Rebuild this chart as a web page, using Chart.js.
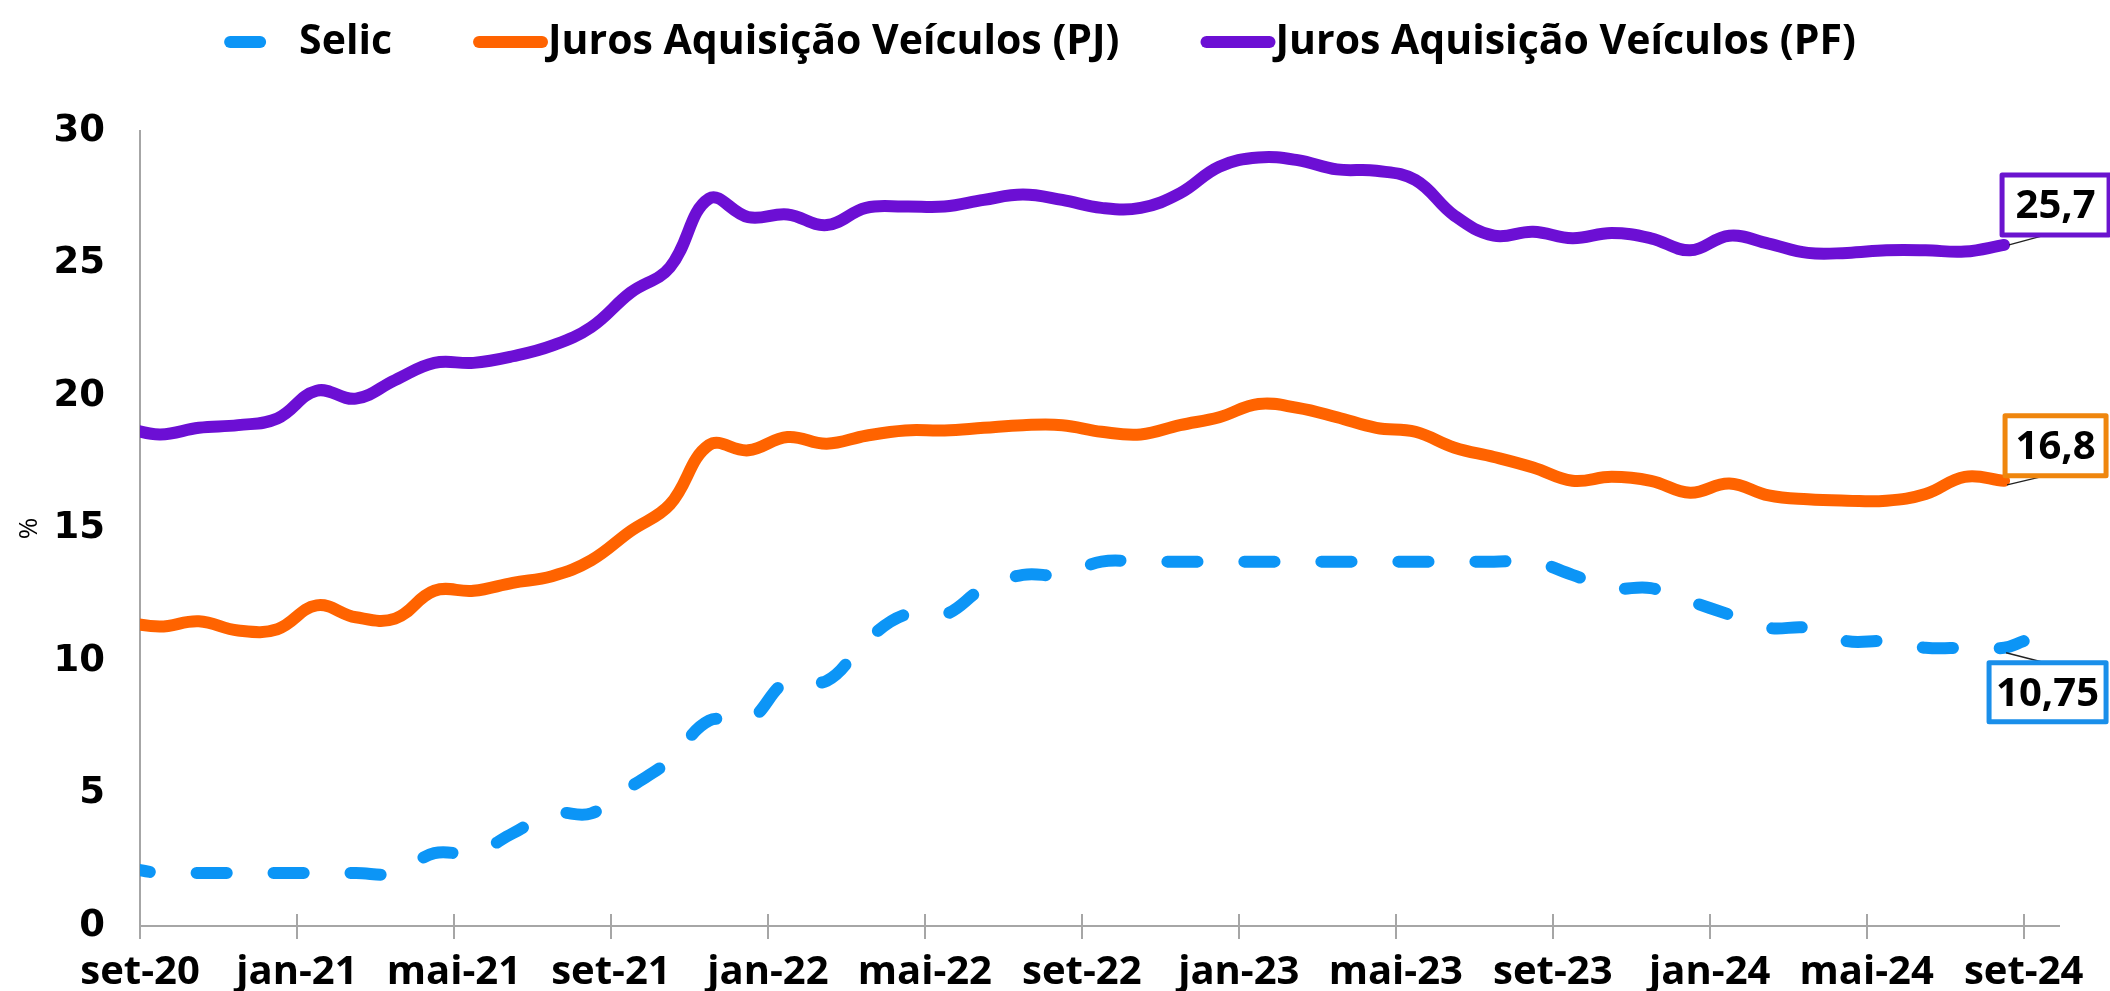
<!DOCTYPE html>
<html><head><meta charset="utf-8">
<script src="https://cdn.jsdelivr.net/npm/chart.js@4.4.1/dist/chart.umd.min.js"></script>
<style>html,body{margin:0;padding:0;background:#fff;overflow:hidden}#wrap{width:2110px;height:991px}</style>
</head><body><div id="wrap"><canvas id="c" width="2110" height="991"></canvas></div>
<script>
// monthly observations (ago-20 .. ago-24); each plotted at mid-month
const months = ['ago-20','set-20','out-20','nov-20','dez-20','jan-21','fev-21','mar-21','abr-21','mai-21','jun-21','jul-21',
  'ago-21','set-21','out-21','nov-21','dez-21','jan-22','fev-22','mar-22','abr-22','mai-22','jun-22','jul-22',
  'ago-22','set-22','out-22','nov-22','dez-22','jan-23','fev-23','mar-23','abr-23','mai-23','jun-23','jul-23',
  'ago-23','set-23','out-23','nov-23','dez-23','jan-24','fev-24','mar-24','abr-24','mai-24','jun-24','jul-24','ago-24'];
const tickLabels = ['set-20','jan-21','mai-21','set-21','jan-22','mai-22','set-22','jan-23','mai-23','set-23','jan-24','mai-24','set-24'];
const selic = [2.25,2,2,2,2,2,2,2,2.75,2.75,3.5,4.25,4.25,5.25,6.25,7.75,7.75,9.25,9.25,10.75,11.75,11.75,12.75,13.25,13.25,
  13.75,13.75,13.75,13.75,13.75,13.75,13.75,13.75,13.75,13.75,13.75,13.75,13.25,12.75,12.75,12.25,11.75,11.25,11.25,10.75,10.75,10.5,10.5,10.5];
const selicAtualMes = 'set-24';
const selicAtual = 10.75;
const pj = [11.5,11.3,11.5,11.15,11.2,12.1,11.65,11.6,12.65,12.65,12.95,13.2,13.8,14.9,15.9,18.15,17.95,18.45,18.2,18.5,18.7,18.7,18.8,18.9,18.9,
  18.65,18.55,18.9,19.2,19.7,19.55,19.2,18.8,18.65,18.05,17.7,17.3,16.8,16.95,16.8,16.35,16.7,16.25,16.1,16.05,16.05,16.3,16.95,16.8];
const pf = [18.85,18.55,18.8,18.9,19.15,20.2,19.9,20.6,21.25,21.25,21.5,21.9,22.6,23.9,24.85,27.45,26.75,26.85,26.45,27.1,27.15,27.15,27.4,27.6,27.4,
  27.1,27.1,27.65,28.65,29.0,28.9,28.55,28.5,28.15,26.8,26.05,26.2,25.95,26.15,25.95,25.5,26.05,25.75,25.4,25.4,25.5,25.5,25.45,25.7];
const seriesNames = ['Selic','Juros Aquisição Veículos (PJ)','Juros Aquisição Veículos (PF)'];

// month position on the linear axis: 0 = start of set-20
const midMonth = k => k - 0.5;
const tickPos = lbl => tickLabels.indexOf(lbl) * 4;
const fmt = v => v.toLocaleString('pt-BR');

const COLORS = {selic:'#0C95F6', pj:'#FF6300', pf:'#6C0FD4'};
const BOXCOL = {selic:'#1A8FEA', pj:'#EF860E', pf:'#6B14CF'};
const clipLeft = {left:0, top:false, right:false, bottom:false};

const selicData = selic.map((v,k)=>({x:midMonth(k), y:v})).concat([{x:tickPos(selicAtualMes), y:selicAtual}]);
const pjData = pj.map((v,k)=>({x:midMonth(k), y:v}));
const pfData = pf.map((v,k)=>({x:midMonth(k), y:v}));

const endLabelPlugin = {
  id:'endLabels',
  afterDatasetsDraw(chart){
    const ctx = chart.ctx;
    const defs = [
      {ds:2, idx:pf.length-1, text:fmt(pf[pf.length-1]), col:BOXCOL.pf, bx:-2, by:-70, w:107, h:60, l1:[5,0], l2:[42,-10]},
      {ds:1, idx:pj.length-1, text:fmt(pj[pj.length-1]), col:BOXCOL.pj, bx:1, by:-65, w:101, h:60, l1:[3,4], l2:[41,-5]},
      {ds:0, idx:selic.length-1, text:fmt(selicAtual), col:BOXCOL.selic, bx:-15, by:15, w:117, h:59, l1:[2,5], l2:[41,15]}
    ];
    ctx.save();
    defs.forEach(d=>{
      const el = chart.getDatasetMeta(d.ds).data[d.idx];
      const ax = el.x, ay = el.y;
      ctx.strokeStyle = '#222'; ctx.lineWidth = 1.3; ctx.setLineDash([]);
      ctx.beginPath(); ctx.moveTo(ax+d.l1[0], ay+d.l1[1]); ctx.lineTo(ax+d.l2[0], ay+d.l2[1]); ctx.stroke();
      const x = ax + d.bx, y = ay + d.by;
      ctx.fillStyle = '#fff'; ctx.fillRect(x, y, d.w, d.h);
      ctx.strokeStyle = d.col; ctx.lineWidth = 5; ctx.lineJoin='round';
      ctx.strokeRect(x, y, d.w, d.h);
      ctx.fillStyle = '#000'; ctx.font = 'bold 40px "Open Sans"';
      ctx.textAlign = 'center'; ctx.textBaseline = 'middle';
      ctx.fillText(d.text, x + d.w/2, y + d.h/2 + 2);
    });
    ctx.restore();
  }
};

const legendPlugin = {
  id:'topLegend',
  afterDraw(chart){
    const ctx = chart.ctx;
    ctx.save();
    ctx.font = 'bold 41px "Open Sans"';
    const items = chart.data.datasets.map(ds=>({text:ds.label, color:ds.borderColor, dash:ds.borderDash||[]}));
    const markerW = 75, gap = 81, y = 42;
    const widths = items.map(it=>ctx.measureText(it.text).width);
    const total = widths.reduce((s,w)=>s+w+markerW,0) + gap*(items.length-1);
    let x = 1040 - total/2;
    items.forEach((it,i)=>{
      ctx.strokeStyle = it.color; ctx.lineWidth = 12; ctx.lineCap = 'round';
      ctx.setLineDash(it.dash);
      ctx.beginPath(); ctx.moveTo(x+6, y); ctx.lineTo(x+markerW-6, y); ctx.stroke();
      ctx.setLineDash([]);
      ctx.fillStyle = '#000'; ctx.textAlign = 'left'; ctx.textBaseline = 'middle';
      ctx.fillText(it.text, x+markerW, y);
      x += markerW + widths[i] + gap;
    });
    ctx.restore();
  }
};

const crossTicks = {
  id:'crossTicks',
  beforeDatasetsDraw(chart){
    const xs = chart.scales.x, ctx = chart.ctx;
    ctx.save();
    ctx.strokeStyle = '#a6a6a6'; ctx.lineWidth = 2;
    xs.ticks.forEach(t=>{
      const px = Math.round(xs.getPixelForValue(t.value));
      ctx.beginPath(); ctx.moveTo(px, xs.top-12); ctx.lineTo(px, xs.top+13); ctx.stroke();
    });
    ctx.restore();
  }
};

new Chart(document.getElementById('c'), {
  type:'line',
  data:{
    datasets:[
      {label:seriesNames[0], data:selicData, borderColor:COLORS.selic, backgroundColor:COLORS.selic, borderWidth:12,
       borderDash:[30,47], borderCapStyle:'round', borderJoinStyle:'round', pointRadius:0, tension:0.4, clip:clipLeft},
      {label:seriesNames[1], data:pjData, borderColor:COLORS.pj, backgroundColor:COLORS.pj, borderWidth:12,
       borderCapStyle:'round', borderJoinStyle:'round', pointRadius:0, tension:0.4, clip:clipLeft},
      {label:seriesNames[2], data:pfData, borderColor:COLORS.pf, backgroundColor:COLORS.pf, borderWidth:12,
       borderCapStyle:'round', borderJoinStyle:'round', pointRadius:0, tension:0.4, clip:clipLeft}
    ]
  },
  options:{
    responsive:false, animation:false, devicePixelRatio:1,
    layout:{padding:{top:131, right:51, left:0, bottom:0}},
    plugins:{legend:{display:false}, tooltip:{enabled:false}},
    scales:{
      x:{type:'linear', min:0, max:48.9,
        afterFit(s){ s.height = 65; },
        grid:{display:false, drawTicks:false},
        border:{display:true, color:'#a6a6a6', width:2},
        ticks:{stepSize:4, includeBounds:false, autoSkip:false, maxRotation:0, padding:23, color:'#000',
          font:{family:'Open Sans', weight:'bold', size:40},
          callback:(v)=>tickLabels[Math.round(v/4)]}
      },
      y:{min:0, max:30,
        afterFit(s){ s.width = 140; },
        grid:{display:false, drawTicks:false},
        border:{display:true, color:'#a6a6a6', width:2},
        ticks:{stepSize:5, padding:35, color:'#000', font:{family:'DejaVu Sans', weight:'bold', size:37}},
        title:{display:true, text:'%', color:'#000', font:{family:'Open Sans', size:26}, padding:{top:14, bottom:0}}
      }
    }
  },
  plugins:[crossTicks, endLabelPlugin, legendPlugin]
});
</script></body></html>
